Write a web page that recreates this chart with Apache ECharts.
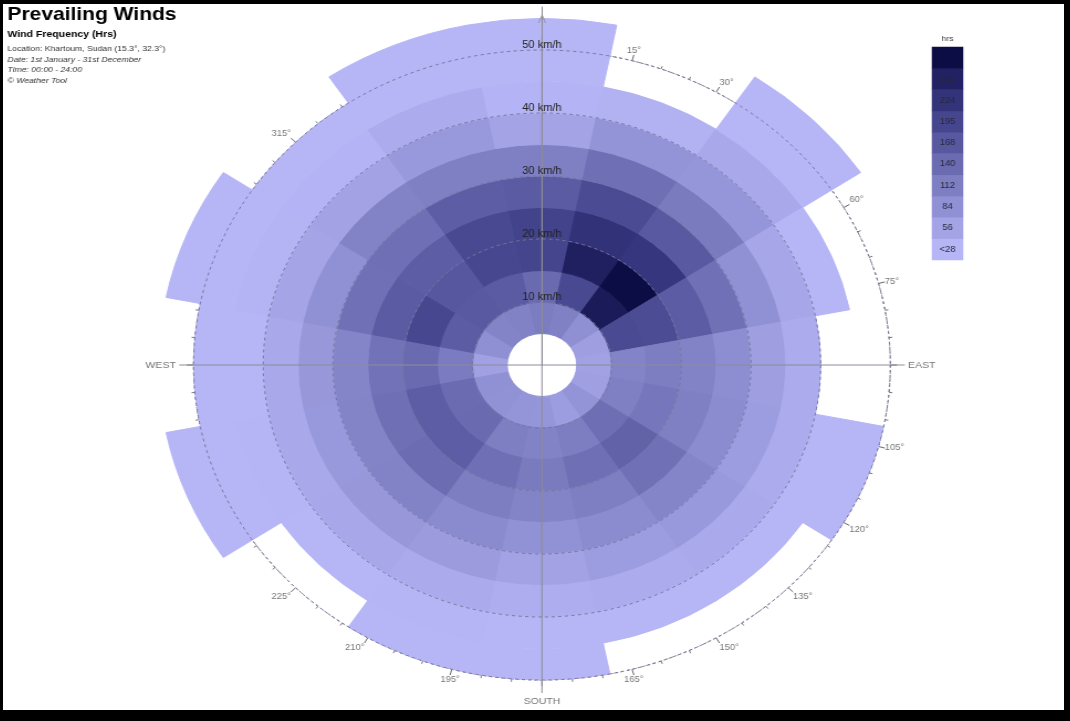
<!DOCTYPE html>
<html>
<head>
<meta charset="utf-8">
<script src="https://cdn.jsdelivr.net/npm/echarts@6/dist/echarts.min.js"></script>
<style>
  html, body { margin: 0; padding: 0; background: #000; width: 1070px; height: 721px; overflow: hidden; }
  #wrap { position: absolute; left: 3px; top: 4px; width: 1061px; height: 706px; background: #fff; overflow: hidden; }
  #chart { position: absolute; left: 0; top: 0; width: 959px; height: 706px; transform: scaleX(1.106); transform-origin: 0 0; }
</style>
</head>
<body>
<div id="wrap"><div id="chart"></div></div>
<script>
// ---- data ----
const directions = ['N','NNE','NE','ENE','E','ESE','SE','SSE','S','SSW','SW','WSW','W','WNW','NW','NNW'];
const calmLimit = 5;                       // km/h, centre hole
const speedBins = [5,10,15,20,25,30,35,40,45,50,55]; // ring edges, km/h
// hours per speed ring (5-10, 10-15, ...) for each direction
const hrsN   = [101,128,183,186,150, 96, 42, 18,  9,  4];
const hrsNNE = [ 95,178,240,212,175,120, 66, 20];
const hrsNE  = [ 72,246,272,205,152,104, 63, 35, 14,  6];
const hrsENE = [ 50,176,172,148,118, 70, 38, 12];
const hrsE   = [ 45, 90,100, 92, 75, 50, 30];
const hrsESE = [ 48, 96,110, 96, 78, 52, 30, 14,  5];
const hrsSE  = [ 66,122,140,118, 88, 58, 33, 12];
const hrsSSE = [ 52,100,120, 98, 78, 52, 30, 11];
const hrsS   = [ 62, 92,104, 90, 68, 44, 28, 13,  5];
const hrsSSW = [ 64, 98,120,100, 80, 54, 32, 15,  6];
const hrsSW  = [ 68,128,146,124, 92, 60, 36, 14];
const hrsWSW = [ 70,126,146,120, 90, 58, 34, 16,  8,  3];
const hrsW   = [ 46,102,128,116, 88, 60, 34, 14,  6];
const hrsWNW = [ 72,148,180,150,118, 70, 40, 17,  8,  4];
const hrsNW  = [ 90,152,156,146,120, 92, 44, 18,  7];
const hrsNNW = [ 94,150,180,178,146, 96, 58, 30, 12,  5];
const legendLabels = ['<28','56','84','112','140','168','195','224','251',''];
const legendStep = 28;   // hours per legend band
const legendColors = ['#b6b6f7','#a3a3e6','#9090d4','#7e7ec3','#6b6bb2','#5858a0','#46468e','#33337a','#212163','#0d0d45'];
const radiusLabels = [10,20,30,40,50];
const compassLabels = {90:'EAST',180:'SOUTH',270:'WEST'};

// ---- build ----
const hoursByDir = [hrsN,hrsNNE,hrsNE,hrsENE,hrsE,hrsESE,hrsSE,hrsSSE,hrsS,hrsSSW,hrsSW,hrsWSW,hrsW,hrsWNW,hrsNW,hrsNNW];
function hex(c){ return [1,3,5].map(i=>parseInt(c.substr(i,2),16)); }
function colorOf(h){
  let t = h/legendStep - 0.5;
  t = Math.max(0, Math.min(legendColors.length-1, t));
  const i = Math.floor(t), f = t - i;
  const a = hex(legendColors[i]), b = hex(legendColors[Math.min(i+1, legendColors.length-1)]);
  const m = a.map((v,j)=>Math.round(v + (b[j]-v)*f));
  return 'rgb('+m.join(',')+')';
}

const cx = 487.3, cy = 361, pxPerKmh = 6.3;
const series = [];
series.push({
  name:'calm', type:'bar', coordinateSystem:'polar', polarIndex:0, stack:'rose',
  barCategoryGap:'0%', silent:true,
  itemStyle:{color:'rgba(0,0,0,0)', borderWidth:0},
  data: directions.map(()=>calmLimit)
});
for (let k=0;k<speedBins.length-1;k++){
  const width = speedBins[k+1]-speedBins[k];
  series.push({
    name: speedBins[k]+'-'+speedBins[k+1]+' km/h', type:'bar', coordinateSystem:'polar', polarIndex:0,
    stack:'rose', barCategoryGap:'0%', barGap:'0%', silent:true, z:2,
    data: hoursByDir.map(arr => {
      if (arr[k]===undefined) return '-';
      const c = colorOf(arr[k]);
      return {value:width, itemStyle:{color:c, borderColor:c, borderWidth:1}};
    })
  });
}
series.push({
  type:'heatmap', xAxisIndex:0, yAxisIndex:0, silent:true,
  data: legendLabels.map((t,i)=>[0,i,i]),
  label:{show:true, formatter:p=>legendLabels[p.data[1]], color:'#2a2a3a', fontSize:8.5, fontFamily:'Liberation Sans, Arial'}
});

const chart = echarts.init(document.getElementById('chart'));
const font = 'Liberation Sans, Arial, sans-serif';
chart.setOption({
  animation:false,
  backgroundColor:'#fff',
  title:[
    {text:'Prevailing Winds', left:4, top:1, padding:0, textStyle:{fontSize:19, fontWeight:'bold', color:'#000', fontFamily:font}},
    {text:'Wind Frequency (Hrs)', left:4, top:25, padding:0, textStyle:{fontSize:9.5, fontWeight:'bold', color:'#000', fontFamily:font}},
    {text:'Location: Khartoum, Sudan (15.3°, 32.3°)', left:4, top:41, padding:0, textStyle:{fontSize:7.8, fontWeight:'normal', color:'#333', fontFamily:font}},
    {text:'Date: 1st January - 31st December', left:4, top:51.5, padding:0, textStyle:{fontSize:7.8, fontWeight:'normal', fontStyle:'italic', color:'#333', fontFamily:font}},
    {text:'Time: 00:00 - 24:00', left:4, top:62, padding:0, textStyle:{fontSize:7.8, fontWeight:'normal', fontStyle:'italic', color:'#333', fontFamily:font}},
    {text:'© Weather Tool', left:4, top:72.5, padding:0, textStyle:{fontSize:7.8, fontWeight:'normal', fontStyle:'italic', color:'#333', fontFamily:font}}
  ],
  polar:[
    {center:[cx,cy], radius: pxPerKmh*speedBins[speedBins.length-1]},
    {center:[cx,cy], radius: pxPerKmh*50},
    {center:[cx,cy], radius: 328},
    {center:[cx,cy], radius: 358}
  ],
  angleAxis:[
    {polarIndex:0, type:'category', data:directions, startAngle:90+180/directions.length, clockwise:true, show:false},
    {polarIndex:1, type:'value', min:0, max:360, interval:15, startAngle:90, clockwise:true, z:1,
      axisLine:{show:true, lineStyle:{color:'#666', type:[2,3], width:1}},
      axisTick:{show:true, length:6, lineStyle:{color:'#666'}},
      minorTick:{show:true, splitNumber:3, length:3, lineStyle:{color:'#777'}},
      splitLine:{show:false},
      axisLabel:{show:true, margin:6, color:'#777', fontSize:8.5, fontFamily:font,
        formatter:v=> (v%90===0 ? '' : v+'°')}},
    {polarIndex:2, type:'value', min:0, max:360, interval:90, startAngle:90, clockwise:true, z:5,
      axisLine:{show:false}, axisTick:{show:false},
      splitLine:{show:true, lineStyle:{color:'#8c8c98', width:1}},
      axisLabel:{show:true, margin:3, color:'#777', fontSize:9.5, fontFamily:font,
        formatter:v=> compassLabels[v]||''}},
    {polarIndex:3, type:'value', min:0, max:360, startAngle:90, clockwise:true, show:false}
  ],
  radiusAxis:[
    {polarIndex:0, type:'value', min:0, max:speedBins[speedBins.length-1], show:false},
    {polarIndex:1, type:'value', min:0, max:50, interval:10, z:5,
      axisLine:{show:false}, axisTick:{show:false},
      splitLine:{show:true, lineStyle:{color:'#76769e', type:[3,3], width:1}},
      axisLabel:{show:true, showMinLabel:false, showMaxLabel:true, margin:0, align:'center', verticalAlign:'bottom',
        color:'#222', fontSize:10, fontFamily:font,
        formatter:v=> (radiusLabels.indexOf(v)>=0 ? v+' km/h' : '')}},
    {polarIndex:2, type:'value', min:0, max:1, show:false},
    {polarIndex:3, type:'value', min:0, max:1, z:5,
      name:'Λ', nameLocation:'end', nameGap:-13,
      nameTextStyle:{fontSize:11, color:'#999', fontFamily:font, align:'center', verticalAlign:'middle'},
      axisLine:{show:true, lineStyle:{color:'#8c8c98', width:1}},
      axisTick:{show:false}, axisLabel:{show:false}, splitLine:{show:false}}
  ],
  grid:[{left:840, top:43, width:28, height:213}],
  xAxis:[{type:'category', data:['hrs'], position:'top', gridIndex:0,
    axisLine:{show:false}, axisTick:{show:false},
    axisLabel:{color:'#444', fontSize:8, margin:4, fontFamily:font}}],
  yAxis:[{type:'category', data:legendLabels, gridIndex:0, show:false}],
  visualMap:[{type:'piecewise', show:false, seriesIndex:series.length-1, dimension:2,
    pieces: legendColors.map((c,i)=>({value:i, color:c}))}],
  series: series
});
</script>
</body>
</html>
